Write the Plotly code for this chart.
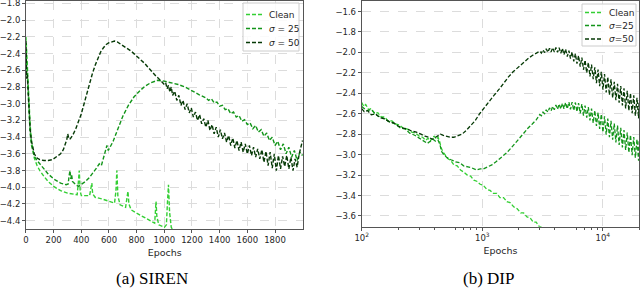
import plotly.graph_objects as go

# ---------------- SIREN (linear epochs) ----------------
siren_clean_x = [0, 10, 20, 30, 40, 50, 60, 80, 100, 130, 160, 200, 250, 300, 350, 370, 378, 385, 392, 400,
                 460, 470, 476, 482, 500, 550, 600, 640, 650, 657, 664, 680, 720, 730, 737, 744, 760, 800,
                 850, 900, 930, 936, 940, 946, 960, 1000, 1015, 1022, 1030, 1038, 1050, 1080, 1100]
siren_clean_y = [-2.20, -2.55, -2.95, -3.25, -3.45, -3.58, -3.65, -3.74, -3.80, -3.87, -3.93, -3.99, -4.04,
                 -4.07, -4.09, -4.09, -3.95, -3.80, -4.05, -4.10, -4.10, -4.00, -3.95, -4.08, -4.12, -4.14,
                 -4.17, -4.19, -4.05, -3.80, -4.10, -4.21, -4.24, -4.12, -4.05, -4.20, -4.27, -4.31, -4.36,
                 -4.41, -4.43, -4.28, -4.17, -4.35, -4.45, -4.48, -4.45, -4.20, -3.97, -4.30, -4.48, -4.55, -4.60]

siren_s25_x = [0, 10, 20, 30, 40, 50, 60, 80, 100, 130, 160, 200, 250, 290, 305, 312, 318, 324, 330, 336, 345,
               360, 380, 400, 430, 460, 490, 510, 530, 545, 560, 575, 585, 595, 610, 630, 660, 700, 740, 780,
               820, 860, 900, 950, 1000, 1050, 1100, 1150, 1200, 1250, 1300, 1320, 1340, 1360, 1380, 1400,
               1420, 1440, 1460, 1480, 1500, 1520, 1540, 1560, 1580, 1600, 1620, 1640, 1660, 1680, 1700,
               1720, 1740, 1760, 1780, 1800, 1820, 1840, 1860, 1880, 1900, 1920, 1940, 1960, 1980, 1999]
siren_s25_y = [-2.35, -2.75, -3.10, -3.35, -3.50, -3.58, -3.63, -3.68, -3.72, -3.78, -3.84, -3.90, -3.95,
               -3.97, -3.96, -3.86, -3.80, -3.90, -3.85, -3.93, -3.95, -3.97, -3.99, -3.97, -3.93, -3.88,
               -3.82, -3.77, -3.72, -3.74, -3.65, -3.55, -3.50, -3.56, -3.52, -3.45, -3.32, -3.15, -3.02,
               -2.92, -2.85, -2.79, -2.75, -2.72, -2.73, -2.75, -2.77, -2.80, -2.84, -2.89, -2.93, -2.96,
               -2.94, -2.99, -2.98, -3.03, -3.02, -3.07, -3.06, -3.12, -3.10, -3.16, -3.14, -3.21, -3.19,
               -3.25, -3.23, -3.30, -3.26, -3.34, -3.31, -3.39, -3.35, -3.44, -3.40, -3.50, -3.45, -3.55,
               -3.48, -3.60, -3.52, -3.64, -3.56, -3.68, -3.58, -3.62]

siren_s50_x = [0, 5, 10, 20, 30, 40, 50, 60, 80, 100, 130, 160, 190, 220, 250, 270, 285, 295, 302, 310, 320,
               340, 360, 380, 400, 420, 440, 460, 480, 500, 520, 540, 560, 580, 600, 620, 640, 660, 680, 700,
               720, 740, 760, 780, 800, 820, 840, 860, 880, 900, 920, 940, 960, 980, 1000, 1010, 1020, 1030,
               1040, 1050, 1060, 1075, 1090, 1105, 1120, 1135, 1150, 1165, 1180, 1195, 1210, 1225, 1240,
               1255, 1270, 1285, 1300, 1315, 1330, 1345, 1360, 1375, 1390, 1405, 1420, 1435, 1450, 1465,
               1480, 1495, 1510, 1525, 1540, 1555, 1570, 1585, 1600, 1615, 1630, 1645, 1660, 1675, 1690,
               1705, 1720, 1735, 1750, 1765, 1780, 1795, 1810, 1825, 1840, 1855, 1870, 1885, 1900, 1915,
               1930, 1945, 1960, 1975, 1990, 1999]
siren_s50_y = [-2.25, -2.70, -2.65, -3.00, -3.30, -3.45, -3.55, -3.60, -3.65, -3.67, -3.68, -3.68, -3.67,
               -3.64, -3.60, -3.55, -3.48, -3.43, -3.36, -3.42, -3.42, -3.37, -3.30, -3.22, -3.12, -3.00,
               -2.87, -2.76, -2.64, -2.54, -2.45, -2.38, -2.33, -2.29, -2.27, -2.26, -2.25, -2.26, -2.28,
               -2.30, -2.32, -2.35, -2.37, -2.40, -2.43, -2.45, -2.49, -2.52, -2.56, -2.60, -2.63, -2.67,
               -2.70, -2.73, -2.77, -2.75, -2.82, -2.78, -2.86, -2.80, -2.90, -2.85, -2.96, -2.90, -3.02,
               -2.96, -3.07, -3.00, -3.11, -3.05, -3.16, -3.10, -3.20, -3.13, -3.24, -3.18, -3.28, -3.20,
               -3.32, -3.25, -3.36, -3.28, -3.40, -3.31, -3.42, -3.35, -3.46, -3.38, -3.50, -3.41, -3.53,
               -3.44, -3.56, -3.46, -3.58, -3.48, -3.60, -3.50, -3.62, -3.52, -3.64, -3.54, -3.66, -3.55,
               -3.70, -3.57, -3.74, -3.58, -3.77, -3.60, -3.80, -3.62, -3.78, -3.63, -3.75, -3.62, -3.78,
               -3.64, -3.80, -3.66, -3.76, -3.60, -3.50, -3.44]

# ---------------- DIP (log epochs) ----------------
dip_clean_x = [100, 104, 108, 114, 120, 128, 136, 145, 155, 165, 178, 190, 205, 220, 240, 260, 280, 300, 320,
               340, 355, 370, 385, 400, 415, 430, 445, 455, 470, 490, 520, 550, 580, 620, 660, 700, 750, 800,
               850, 900, 960, 1020, 1090, 1160, 1240, 1320, 1400, 1500, 1600, 1700, 1820, 1950, 2080, 2200,
               2350, 2500, 2650, 2800, 2950, 3100, 3250]
dip_clean_y = [-2.49, -2.53, -2.51, -2.56, -2.55, -2.60, -2.59, -2.63, -2.63, -2.67, -2.67, -2.70, -2.71,
               -2.74, -2.75, -2.78, -2.79, -2.82, -2.83, -2.86, -2.84, -2.87, -2.83, -2.82, -2.85, -2.83,
               -2.88, -2.93, -2.97, -3.00, -3.04, -3.06, -3.10, -3.11, -3.15, -3.17, -3.20, -3.21, -3.25,
               -3.26, -3.29, -3.30, -3.34, -3.35, -3.38, -3.38, -3.42, -3.42, -3.46, -3.47, -3.51, -3.53,
               -3.57, -3.57, -3.61, -3.62, -3.66, -3.66, -3.70, -3.71, -3.74]

dip_head_s25_x = [100, 110, 120, 135, 150, 170, 190, 210, 230, 250, 275, 300, 325, 350, 370, 390, 410, 430,
                  445, 460, 480, 510, 550, 600, 650, 700, 760, 820, 900, 960, 1020, 1100, 1200, 1300, 1400,
                  1500, 1600, 1750, 1900, 2050, 2200, 2400, 2600, 2800]
dip_head_s25_y = [-2.53, -2.57, -2.56, -2.62, -2.64, -2.68, -2.70, -2.74, -2.75, -2.79, -2.81, -2.84, -2.87,
                  -2.89, -2.87, -2.85, -2.87, -2.86, -2.90, -2.97, -3.00, -3.03, -3.05, -3.07, -3.08, -3.11,
                  -3.12, -3.13, -3.15, -3.14, -3.14, -3.12, -3.10, -3.07, -3.04, -3.01, -2.98, -2.93, -2.88,
                  -2.83, -2.79, -2.74, -2.70, -2.66]

dip_head_s50_x = [100, 105, 112, 120, 130, 142, 155, 170, 185, 200, 220, 240, 260, 284, 310, 335, 360, 385,
                  410, 430, 450, 470, 500, 540, 580, 620, 680, 740, 800, 870, 950, 1050, 1150, 1250, 1380,
                  1500, 1650, 1800, 2000, 2200, 2400, 2600, 2800]
dip_head_s50_y = [-2.55, -2.58, -2.57, -2.61, -2.60, -2.64, -2.65, -2.68, -2.69, -2.72, -2.74, -2.75, -2.77,
                  -2.78, -2.80, -2.82, -2.83, -2.85, -2.83, -2.81, -2.80, -2.81, -2.82, -2.83, -2.83, -2.82,
                  -2.80, -2.76, -2.72, -2.67, -2.60, -2.53, -2.47, -2.42, -2.36, -2.30, -2.24, -2.19, -2.14,
                  -2.10, -2.06, -2.03, -2.01]

# late-training epochs (shared by the noisy tails)
dip_tail_x = [3000, 3090, 3190, 3290, 3390, 3500, 3610, 3720, 3840, 3960, 4080, 4210, 4340, 4480, 4620, 4760,
              4910, 5070, 5230, 5390, 5560, 5740, 5920, 6100, 6290, 6490, 6700, 6910, 7120, 7350, 7580, 7820,
              8060, 8320, 8580, 8850, 9130, 9410, 9710, 10020, 10330, 10660, 10990, 11340, 11690, 12060,
              12440, 12830, 13240, 13650, 14080, 14530, 14980, 15460, 15940, 16440, 16960, 17500, 18050,
              18610, 19200, 19800, 20000]
dip_tail_s25_y = [-2.608, -2.620, -2.585, -2.600, -2.562, -2.584, -2.543, -2.571, -2.528, -2.561, -2.515,
                  -2.556, -2.505, -2.553, -2.498, -2.551, -2.490, -2.553, -2.486, -2.557, -2.486, -2.568,
                  -2.490, -2.580, -2.495, -2.597, -2.505, -2.618, -2.520, -2.638, -2.535, -2.665, -2.550,
                  -2.690, -2.568, -2.720, -2.588, -2.748, -2.605, -2.780, -2.625, -2.805, -2.648, -2.830,
                  -2.670, -2.855, -2.695, -2.880, -2.715, -2.905, -2.738, -2.930, -2.760, -2.955, -2.785,
                  -2.980, -2.808, -3.005, -2.828, -3.030, -2.850, -3.060, -2.870]
dip_tail_s50_y = [-1.988, -2.007, -1.975, -2.002, -1.965, -1.998, -1.960, -1.995, -1.955, -1.997, -1.952,
                  -2.000, -1.955, -2.008, -1.960, -2.022, -1.968, -2.040, -1.982, -2.060, -1.995, -2.088,
                  -2.012, -2.110, -2.032, -2.140, -2.050, -2.170, -2.075, -2.200, -2.098, -2.235, -2.120,
                  -2.262, -2.145, -2.300, -2.168, -2.330, -2.190, -2.365, -2.212, -2.392, -2.240, -2.418,
                  -2.262, -2.445, -2.288, -2.468, -2.308, -2.492, -2.330, -2.520, -2.352, -2.548, -2.375,
                  -2.570, -2.398, -2.595, -2.420, -2.620, -2.445, -2.645, -2.470]

series_names = ["Clean", "<i>σ</i> = 25", "<i>σ</i> = 50"]
series_names_dip = ["Clean", "<i>σ</i>=25", "<i>σ</i>=50"]
colors = ["#33cf33", "#13951a", "#063a06"]

siren_yticks = [-1.8, -2.0, -2.2, -2.4, -2.6, -2.8, -3.0, -3.2, -3.4, -3.6, -3.8, -4.0, -4.2, -4.4]
siren_xticks = [0, 200, 400, 600, 800, 1000, 1200, 1400, 1600, 1800]
dip_yticks = [-1.6, -1.8, -2.0, -2.2, -2.4, -2.6, -2.8, -3.0, -3.2, -3.4, -3.6]
dip_xticks = [100, 1000, 10000]
dip_xticktext = ["10<sup>2</sup>", "10<sup>3</sup>", "10<sup>4</sup>"]
dip_midticks = [500, 5000]
dip_minor = [200, 300, 400, 600, 700, 800, 900, 2000, 3000, 4000, 6000, 7000, 8000, 9000, 20000]

fig = go.Figure()
dash = "4px,2px"
siren_data = [(siren_clean_x, siren_clean_y), (siren_s25_x, siren_s25_y), (siren_s50_x, siren_s50_y)]
for i, (xs, ys) in enumerate(siren_data):
    fig.add_trace(go.Scatter(x=xs, y=ys, mode="lines", name=series_names[i], showlegend=False,
                             line=dict(color=colors[i], width=1.4, dash=dash),
                             xaxis="x", yaxis="y"))

dip_data = [(dip_clean_x, dip_clean_y),
            (dip_head_s25_x + dip_tail_x, dip_head_s25_y + dip_tail_s25_y),
            (dip_head_s50_x + dip_tail_x, dip_head_s50_y + dip_tail_s50_y)]
for i, (xs, ys) in enumerate(dip_data):
    fig.add_trace(go.Scatter(x=xs, y=ys, mode="lines", name=series_names_dip[i], showlegend=False,
                             line=dict(color=colors[i], width=1.3, dash=dash),
                             xaxis="x2", yaxis="y2"))

tickfont = dict(family="DejaVu Sans", size=8.5, color="#262626")
axis_common = dict(showline=True, mirror=True, linecolor="#555555", linewidth=1,
                   ticks="outside", ticklen=3, tickcolor="#555555", tickfont=tickfont,
                   showgrid=True, gridcolor="#dcdcdc", griddash="dash", gridwidth=1,
                   zeroline=False, automargin=False, ticklabeloverflow="allow")
title_font = dict(family="DejaVu Sans", size=9.5, color="#262626")

fig.update_layout(
    width=640, height=290,
    margin=dict(l=0, r=0, t=0, b=0),
    paper_bgcolor="white", plot_bgcolor="white",
    showlegend=False,
    xaxis=dict(domain=[0.0406, 0.474], range=[0, 2005], tickvals=siren_xticks,
               title=dict(text="Epochs", font=title_font, standoff=5),
               anchor="y", **axis_common),
    yaxis=dict(domain=[0.2103, 0.998], range=[-4.50, -1.765], tickvals=siren_yticks,
               tickformat=".1f", anchor="x", **axis_common),
    xaxis2=dict(domain=[0.5652, 0.999], type="log", range=[2, 4.303], tickvals=dip_xticks,
                ticktext=dip_xticktext,
                minor=dict(tickvals=dip_minor, ticks="outside", ticklen=2, tickcolor="#555555", showgrid=False),
                title=dict(text="Epochs", font=title_font, standoff=5),
                anchor="y2", **axis_common),
    xaxis3=dict(domain=[0.5652, 0.999], type="log", range=[2, 4.303], tickvals=dip_midticks,
                showticklabels=False, overlaying="x2", anchor="y2", side="bottom",
                ticks="outside", ticklen=3, tickcolor="#555555",
                showgrid=True, gridcolor="#dcdcdc", griddash="dash", gridwidth=1,
                showline=False, zeroline=False, automargin=False),
    yaxis2=dict(domain=[0.2183, 0.998], range=[-3.705, -1.493], tickvals=dip_yticks,
                tickformat=".1f", anchor="x2", **axis_common),
)

# ---- legends (drawn as a framed key in paper coordinates) ----
W, H = 640.0, 290.0
legend_font = dict(family="DejaVu Sans", size=9, color="#262626")


def add_key(box, line_x0, line_x1, text_x, rows, names):
    x0, y0, x1, y1 = box
    fig.add_shape(type="rect", xref="paper", yref="paper",
                  x0=x0 / W, x1=x1 / W, y0=1 - y0 / H, y1=1 - y1 / H,
                  fillcolor="rgba(255,255,255,0.85)", line=dict(color="#cccccc", width=1), layer="above")
    for i, yr in enumerate(rows):
        fig.add_shape(type="line", xref="paper", yref="paper",
                      x0=line_x0 / W, x1=line_x1 / W, y0=1 - yr / H, y1=1 - yr / H,
                      line=dict(color=colors[i], width=1.6, dash="4px,2px"), layer="above")
        fig.add_annotation(text=names[i], xref="paper", yref="paper", x=text_x / W, y=1 - yr / H,
                           xanchor="left", yanchor="middle", showarrow=False, font=legend_font)


add_key((243, 3, 299, 51), 246, 263, 267, [14.5, 28.5, 42.5], series_names)
add_key((582, 4, 636, 46), 585, 602, 607, [12.5, 25.5, 39], series_names_dip)

caption_font = dict(family="Liberation Serif", size=17, color="black")
fig.add_annotation(text="(a) SIREN", x=0.2375, y=0.041, xref="paper", yref="paper",
                   xanchor="center", yanchor="middle", showarrow=False, font=caption_font)
fig.add_annotation(text="(b) DIP", x=0.764, y=0.041, xref="paper", yref="paper",
                   xanchor="center", yanchor="middle", showarrow=False, font=caption_font)

fig.write_html("out.html", config={"displayModeBar": False},
               post_script="document.body.style.margin='0px';")
